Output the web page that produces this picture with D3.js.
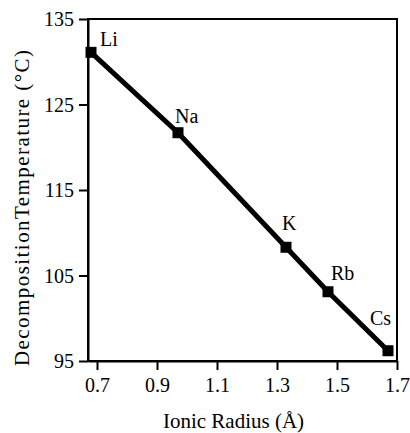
<!DOCTYPE html>
<html>
<head>
<meta charset="utf-8">
<script src="https://cdn.jsdelivr.net/npm/d3@7"></script>
<style>
  body { margin: 0; background: #fff; }
</style>
</head>
<body>
<div id="chart"></div>
<script>
// alkali metal ions: ionic radius vs decomposition temperature
const ions = ["Li", "Na", "K", "Rb", "Cs"];
const radius = [0.68, 0.97, 1.33, 1.47, 1.67];
const temperature = [131.1, 121.7, 108.3, 103.1, 96.2];

const xTicks = [0.7, 0.9, 1.1, 1.3, 1.5, 1.7];
const yTicks = [95, 105, 115, 125, 135];

// where each ion's label sits relative to its marker (px)
const labelDx = [9, -3, -4, 3, -18];
const labelDy = [-6, -10, -17, -12, -26];

const W = 410, H = 433;
const plotL = 88, plotR = 397, plotT = 19, plotB = 361;
const serif = "\"Liberation Serif\"";

const x = d3.scaleLinear().domain([0.67, 1.7]).range([plotL, plotR]);
const y = d3.scaleLinear().domain([95, 135]).range([plotB, plotT]);

const svg = d3.select("#chart").append("svg")
  .attr("width", W)
  .attr("height", H)
  .style("font-family", serif);

// frame
svg.append("rect")
  .attr("x", plotL)
  .attr("y", plotT)
  .attr("width", plotR - plotL)
  .attr("height", plotB - plotT)
  .attr("fill", "none")
  .attr("stroke", "#000")
  .attr("stroke-width", 2);

// axes
const xAxis = svg.append("g")
  .attr("transform", `translate(0,${plotB})`)
  .call(d3.axisBottom(x).tickValues(xTicks).tickFormat(d3.format(".1f")).tickSize(9).tickSizeOuter(0).tickPadding(8));

const yAxis = svg.append("g")
  .attr("transform", `translate(${plotL},0)`)
  .call(d3.axisLeft(y).tickValues(yTicks).tickSize(9).tickSizeOuter(0).tickPadding(5));

[xAxis, yAxis].forEach(g => {
  g.attr("font-family", null);
  g.select(".domain").attr("stroke-width", 2);
  g.selectAll(".tick line").attr("stroke-width", 2);
  g.selectAll("text")
    .style("font-family", serif)
    .style("font-size", "20px")
    .attr("fill", "#000");
});
yAxis.selectAll("text").attr("dy", "0.34em");

// line
const pts = ions.map((d, i) => ({ ion: d, r: radius[i], t: temperature[i], i }));

svg.append("path")
  .datum(pts)
  .attr("fill", "none")
  .attr("stroke", "#000")
  .attr("stroke-width", 5)
  .attr("d", d3.line().x(d => x(d.r)).y(d => y(d.t)));

// markers
const sq = 11;
svg.selectAll("rect.pt")
  .data(pts)
  .enter()
  .append("rect")
  .attr("class", "pt")
  .attr("x", d => x(d.r) - sq / 2)
  .attr("y", d => y(d.t) - sq / 2)
  .attr("width", sq)
  .attr("height", sq)
  .attr("fill", "#000");

// ion labels
svg.selectAll("text.lbl")
  .data(pts)
  .enter()
  .append("text")
  .attr("class", "lbl")
  .attr("x", d => x(d.r) + labelDx[d.i])
  .attr("y", d => y(d.t) + labelDy[d.i])
  .style("font-family", serif)
  .style("font-size", "20px")
  .text(d => d.ion);

// axis titles
svg.append("text")
  .attr("x", (plotL + plotR) / 2 - 9)
  .attr("y", 428)
  .attr("text-anchor", "middle")
  .style("font-family", serif)
  .style("font-size", "21px")
  .text("Ionic Radius (Å)");

svg.append("text")
  .attr("transform", "translate(29,208) rotate(-90)")
  .attr("text-anchor", "middle")
  .attr("textLength", 316)
  .attr("lengthAdjust", "spacing")
  .style("font-family", serif)
  .style("font-size", "21px")
  .text("DecompositionTemperature (°C)");
</script>
</body>
</html>
